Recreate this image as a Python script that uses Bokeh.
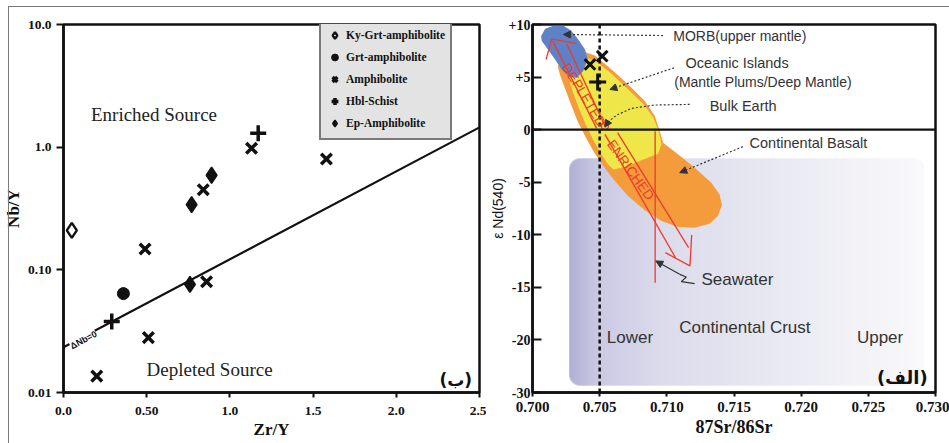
import numpy as np
from bokeh.plotting import figure
from bokeh.layouts import row
from bokeh.models import (FixedTicker, Legend, LegendItem, Label, Span, Arrow,
                          NormalHead, Range1d, InlineStyleSheet)
from bokeh.embed import file_html
from bokeh.resources import INLINE

# ---------------- Left panel data: Zr/Y vs Nb/Y ----------------
ky_zr = [0.05]
ky_nb = [0.21]
grt_zr = [0.36]
grt_nb = [0.064]
amph_zr = [0.20, 0.49, 0.51, 0.84, 0.86, 1.13, 1.58]
amph_nb = [0.0136, 0.148, 0.028, 0.45, 0.080, 0.98, 0.80]
hbl_zr = [0.29, 1.17]
hbl_nb = [0.038, 1.30]
ep_zr = [0.76, 0.77, 0.89]
ep_nb = [0.076, 0.34, 0.59]
dnb_zr = [0.0, 2.5]
dnb_nb = [0.0234, 1.45]
left_xticks = [0, 0.5, 1.0, 1.5, 2.0, 2.5]
left_xlabels = ["0.0", "0.50", "1.0", "1.5", "2.0", "2.5"]
left_yticks = [0.01, 0.1, 1, 10]
left_ylabels = ["0.01", "0.10", "1.0", "10.0"]

# ---------------- Right panel data: 87Sr/86Sr vs eNd ----------------
right_xticks = [0.700, 0.705, 0.710, 0.715, 0.720, 0.725, 0.730]
right_xlabels = ["0.700", "0.705", "0.710", "0.715", "0.720", "0.725", "0.730"]
right_yticks = [10, 5, 0, -5, -10, -15, -20, -25]
right_ylabels = ["+10", "+5", "0", "-5", "-10", "-15", "-20", "-30"]

sample_x_sr = [0.70428, 0.70519]
sample_x_nd = [6.20, 6.99]
sample_p_sr = [0.70485]
sample_p_nd = [4.52]

crust_sr = [0.70273, 0.72915]
crust_nd = [-24.35, -2.73]

orange_sr = [0.70366, 0.70465, 0.70589, 0.70712, 0.70836, 0.70910, 0.70947, 0.70972,
             0.71083, 0.71207, 0.71331, 0.71392, 0.71410, 0.71380, 0.71318, 0.71207,
             0.71083, 0.70960, 0.70836, 0.70712, 0.70613, 0.70527, 0.70453, 0.70391,
             0.70336, 0.70287, 0.70242, 0.70205, 0.70188, 0.70218, 0.70279]
orange_nd = [7.47, 7.05, 5.72, 4.30, 2.72, 1.29, -0.14, -1.24,
             -2.35, -3.62, -5.05, -6.15, -7.17, -8.21, -8.94, -9.32,
             -9.26, -8.69, -7.67, -6.31, -4.89, -3.46, -2.04, -0.61,
             0.81, 2.40, 3.92, 5.19, 6.04, 6.77, 7.21]

yellow_sr = [0.70366, 0.70465, 0.70589, 0.70712, 0.70824, 0.70898, 0.70940, 0.70960,
             0.70935, 0.70811, 0.70688, 0.70601, 0.70559, 0.70510, 0.70453, 0.70396,
             0.70346, 0.70302, 0.70272, 0.70277, 0.70304]
yellow_nd = [6.90, 6.58, 5.31, 3.82, 2.46, 1.19, -0.14, -1.40,
             -2.29, -2.92, -3.56, -3.78, -3.24, -2.29, -1.02, 0.50,
             2.02, 3.51, 4.77, 5.72, 6.45]

blue_sr = [0.70064, 0.70094, 0.70156, 0.70230, 0.70287, 0.70341, 0.70391, 0.70411,
           0.70378, 0.70329, 0.70272, 0.70218, 0.70163, 0.70106, 0.70069]
blue_nd = [8.89, 9.59, 9.87, 9.87, 9.43, 8.57, 7.62, 6.67,
           5.57, 4.93, 5.00, 5.72, 6.77, 7.78, 8.42]

red_lines_sr = [[0.70477, 0.70151], [0.70544, 0.70255], [0.70101, 0.70143, 0.70329],
                [0.70539, 0.71064], [0.70633, 0.71162], [0.70989, 0.71172, 0.71185],
                [0.70913, 0.70913]]
red_lines_nd = [[0.12, 8.42], [0.24, 8.16], [6.67, 8.64, 8.19],
                [-0.45, -12.17], [-0.29, -11.22], [-11.70, -12.96, -10.02],
                [-0.15, -14.55]]

seawater_sr = [0.71207, 0.71108, 0.71145, 0.71096]
seawater_nd = [-14.64, -14.45, -14.01, -13.76]
seawater_tip = (0.70918, -12.49)

bulk_curve_sr = [0.71170, 0.70910, 0.70737, 0.70626, 0.70564]
bulk_curve_nd = [2.40, 2.34, 2.02, 1.38, 0.75]
bulk_tip = (0.70539, 0.24)

# dotted callout arrows: (x_start, y_start, x_end, y_end)
callouts = [(0.70972, 8.95, 0.70230, 9.05),
            (0.71054, 5.88, 0.70576, 3.82),
            (0.71566, -1.62, 0.71096, -4.09)]

FRAME_BLACK = "#111111"
SERIF = "Liberation Serif"
SANS = "Liberation Sans"


def style_axes(p, tick_size):
    for ax in p.axis:
        ax.axis_line_width = 2.5
        ax.axis_line_color = FRAME_BLACK
        ax.major_tick_line_width = 2
        ax.major_tick_line_color = FRAME_BLACK
        ax.minor_tick_line_color = None
        ax.major_label_text_font = SERIF
        ax.major_label_text_font_style = "bold"
        ax.major_label_text_font_size = tick_size
        ax.major_label_text_color = "#111111"
        ax.axis_label_text_color = "#111111"


# ======================= LEFT FIGURE =======================
p1 = figure(width=486, height=443, x_range=Range1d(0, 2.5), y_range=Range1d(0.01, 10),
            y_axis_type="log", output_backend="svg", toolbar_location=None,
            min_border_left=62, min_border_right=7, min_border_top=24, min_border_bottom=51)
p1.grid.visible = False
p1.outline_line_color = FRAME_BLACK
p1.outline_line_width = 2.5
p1.outline_line_alpha = 1
style_axes(p1, "13.5px")
p1.xaxis.ticker = FixedTicker(ticks=left_xticks, minor_ticks=[])
p1.xaxis.major_label_overrides = dict(zip(left_xticks, left_xlabels))
p1.yaxis.ticker = FixedTicker(ticks=left_yticks, minor_ticks=[])
p1.yaxis.major_label_overrides = dict(zip(left_yticks, left_ylabels))
p1.xaxis.major_tick_out = 5
p1.xaxis.major_tick_in = 0
p1.xaxis.major_label_standoff = 9
p1.yaxis.major_tick_out = 7
p1.yaxis.major_tick_in = 0
p1.yaxis.major_label_standoff = 5
p1.xaxis.axis_label = "Zr/Y"
p1.yaxis.axis_label = "Nb/Y"
for ax in p1.axis:
    ax.axis_label_text_font = SERIF
    ax.axis_label_text_font_style = "bold"
    ax.axis_label_text_font_size = "17px"
    ax.axis_label_standoff = 2

p1.line(dnb_zr, dnb_nb, line_color=FRAME_BLACK, line_width=2.2)

r_ky = p1.scatter(ky_zr, ky_nb, marker="diamond", size=15,
                  fill_color="white", line_color=FRAME_BLACK, line_width=2.4)
r_grt = p1.scatter(grt_zr, grt_nb, marker="circle", size=12,
                   fill_color=FRAME_BLACK, line_color=FRAME_BLACK)
r_amph = p1.scatter(amph_zr, amph_nb, marker="x", size=15,
                    line_color=FRAME_BLACK, line_width=3.5)
r_hbl = p1.scatter(hbl_zr, hbl_nb, marker="cross", size=16,
                   line_color=FRAME_BLACK, line_width=3.5)
r_ep = p1.scatter(ep_zr, ep_nb, marker="diamond", size=16,
                  fill_color=FRAME_BLACK, line_color=FRAME_BLACK, line_width=1.5)

legend = Legend(items=[
    LegendItem(label="Ky-Grt-amphibolite", renderers=[r_ky]),
    LegendItem(label="Grt-amphibolite", renderers=[r_grt]),
    LegendItem(label="Amphibolite", renderers=[r_amph]),
    LegendItem(label="Hbl-Schist", renderers=[r_hbl]),
    LegendItem(label="Ep-Amphibolite", renderers=[r_ep]),
], location=(256, 252))
legend.label_text_font = SERIF
legend.label_text_font_style = "bold"
legend.label_text_font_size = "11.5px"
legend.label_text_color = "#111111"
legend.glyph_width = 17
legend.glyph_height = 20
legend.label_height = 20
legend.spacing = 2
legend.padding = 5
legend.margin = 0
legend.label_standoff = 3
legend.border_line_color = FRAME_BLACK
legend.border_line_width = 2.5
legend.background_fill_color = "#e3e3e3"
legend.background_fill_alpha = 1
p1.add_layout(legend)

p1.add_layout(Label(x=0.165, y=1.845, text="Enriched  Source", text_font=SERIF,
                    text_font_size="19px", text_color="#222222", text_baseline="middle"))
p1.add_layout(Label(x=0.499, y=0.01526, text="Depleted Source", text_font=SERIF,
                    text_font_size="19px", text_color="#222222", text_baseline="middle"))
p1.add_layout(Label(x=2.455, y=0.01253, text="(ب)", text_font="DejaVu Sans",
                    text_font_style="bold", text_font_size="17px", text_color="#111111",
                    text_align="right", text_baseline="middle"))
p1.add_layout(Label(x=0.12, y=0.0268, text="ΔNb=0", text_font=SANS, text_font_style="bold",
                    text_font_size="9px", text_color="#111111", angle=0.49,
                    text_align="center", text_baseline="middle",
                    background_fill_color="white", background_fill_alpha=1))

# ======================= RIGHT FIGURE =======================
p2 = figure(width=463, height=443, x_range=Range1d(0.700, 0.730), y_range=Range1d(-25, 10),
            output_backend="svg", toolbar_location=None,
            min_border_left=45, min_border_right=14, min_border_top=23, min_border_bottom=51)
p2.grid.visible = False
p2.outline_line_color = FRAME_BLACK
p2.outline_line_width = 2.5
p2.outline_line_alpha = 1
style_axes(p2, "15px")
p2.yaxis.major_label_text_font_size = "14px"
p2.xaxis.ticker = FixedTicker(ticks=right_xticks, minor_ticks=[])
p2.xaxis.major_label_overrides = dict(zip(right_xticks, right_xlabels))
p2.yaxis.ticker = FixedTicker(ticks=right_yticks, minor_ticks=[])
p2.yaxis.major_label_overrides = dict(zip(right_yticks, right_ylabels))
p2.xaxis.major_tick_out = 4
p2.xaxis.major_tick_in = 0
p2.xaxis.major_label_standoff = 5
p2.yaxis.major_tick_out = 0
p2.yaxis.major_tick_in = 9
p2.yaxis.major_label_standoff = 2
p2.xaxis.axis_label = "87Sr/86Sr"
p2.xaxis.axis_label_text_font = SERIF
p2.xaxis.axis_label_text_font_style = "bold"
p2.xaxis.axis_label_text_font_size = "18px"
p2.xaxis.axis_label_standoff = 2
p2.yaxis.axis_label = "ε Nd(540)"
p2.yaxis.axis_label_text_font = SANS
p2.yaxis.axis_label_text_font_style = "normal"
p2.yaxis.axis_label_text_font_size = "14px"
p2.yaxis.axis_label_standoff = 0

# continental crust field: rounded box with a horizontal lavender -> white gradient
W, H = 356, 228
t = np.linspace(0, 1, W)
stops = [0, 0.08, 0.25, 0.5, 0.8, 1]
rch = np.interp(t, stops, [178, 203, 219, 230, 242, 250])
gch = np.interp(t, stops, [177, 202, 219, 230, 242, 250])
bch = np.interp(t, stops, [214, 228, 236, 241, 247, 252])
yy, xx = np.mgrid[0:H, 0:W] + 0.5
rad = 11
cx = np.clip(xx, rad, W - rad)
cy = np.clip(yy, rad, H - rad)
alpha = np.clip(rad + 0.5 - np.hypot(xx - cx, yy - cy), 0, 1)
img = np.zeros((H, W, 4), dtype=np.uint8)
img[..., 0] = rch[None, :]
img[..., 1] = gch[None, :]
img[..., 2] = bch[None, :]
img[..., 3] = (alpha * 255).astype(np.uint8)
p2.image_rgba(image=[img.view(np.uint32).reshape(H, W)], x=crust_sr[0], y=crust_nd[0],
              dw=crust_sr[1] - crust_sr[0], dh=crust_nd[1] - crust_nd[0])

p2.patch(orange_sr, orange_nd, fill_color="#f49b3b", line_color=None)
p2.patch(yellow_sr, yellow_nd, fill_color="#efe74a", line_color=None)
p2.patch(blue_sr, blue_nd, fill_color="#5f82c6", line_color=None)
p2.multi_line(red_lines_sr, red_lines_nd, line_color="#ee3a2c", line_width=1.3)
p2.scatter([bulk_tip[0]], [bulk_tip[1] + 0.1], marker="circle", size=7,
           fill_color=None, line_color="#ee3a2c", line_width=1.2)

# callouts
GRAY = "#333333"
for (xs, ys, xe, ye) in callouts:
    p2.add_layout(Arrow(end=NormalHead(size=7, fill_color=GRAY, line_color=GRAY),
                        x_start=xs, y_start=ys, x_end=xe, y_end=ye,
                        line_color=GRAY, line_width=1.2, line_dash="2 2"))
p2.line(bulk_curve_sr, bulk_curve_nd, line_color=GRAY, line_width=1.2, line_dash="2 2")
p2.add_layout(Arrow(end=NormalHead(size=7, fill_color=GRAY, line_color=GRAY),
                    x_start=bulk_curve_sr[-1], y_start=bulk_curve_nd[-1],
                    x_end=bulk_tip[0], y_end=bulk_tip[1],
                    line_color=GRAY, line_width=1.2, line_dash="2 2"))
p2.line(seawater_sr, seawater_nd, line_color=GRAY, line_width=1.2)
p2.add_layout(Arrow(end=NormalHead(size=7, fill_color=GRAY, line_color=GRAY),
                    x_start=seawater_sr[-1], y_start=seawater_nd[-1],
                    x_end=seawater_tip[0], y_end=seawater_tip[1],
                    line_color=GRAY, line_width=1.2))

p2.add_layout(Span(location=0, dimension="width", line_color=FRAME_BLACK, line_width=2.2))
p2.add_layout(Span(location=0.705, dimension="height", line_color=FRAME_BLACK,
                   line_width=2.5, line_dash="4 3"))

p2.scatter(sample_x_sr, sample_x_nd, marker="x", size=15, line_color=FRAME_BLACK, line_width=3)
p2.scatter(sample_p_sr, sample_p_nd, marker="cross", size=17, line_color=FRAME_BLACK, line_width=3)


def note(x, y, text, size, color=GRAY, align="left", font=SANS, style="normal", angle=0):
    p2.add_layout(Label(x=x, y=y, text=text, text_font=font, text_font_size=size,
                        text_font_style=style, text_color=color, text_align=align,
                        text_baseline="middle", angle=angle))


note(0.71048, 8.89, "MORB(upper mantle)", "14px")
note(0.71139, 6.32, "Oceanic Islands", "14.5px")
note(0.71055, 4.52, "(Mantle Plums/Deep Mantle)", "14px")
note(0.71319, 2.24, "Bulk Earth", "14.5px")
note(0.71616, -1.28, "Continental Basalt", "14.5px")
note(0.71258, -14.29, "Seawater", "17px")
note(0.70553, -19.77, "Lower", "17px")
note(0.71092, -18.82, "Continental Crust", "17px")
note(0.72415, -19.80, "Upper", "17px")
note(0.72942, -23.60, "(الف)", "18px", color="#111111", align="right",
     font="DejaVu Sans", style="bold")
note(0.70383, 3.29, "DEPLETED", "13.5px", color="#ee3a2c", align="center", angle=-1.03)
note(0.70730, -3.84, "ENRICHED", "13.5px", color="#ee3a2c", align="center", angle=-0.95)

layout = row(p1, p2)
layout.stylesheets = [InlineStyleSheet(css=(
    ":host::after { content: ''; position: absolute; left: 8px; top: 6px; right: 0; "
    "bottom: 0; border-top: 1.5px solid #7a7a7a; border-left: 1.5px solid #7a7a7a; "
    "pointer-events: none; z-index: 10; }"))]
open("out.html", "w").write(file_html(layout, INLINE))
